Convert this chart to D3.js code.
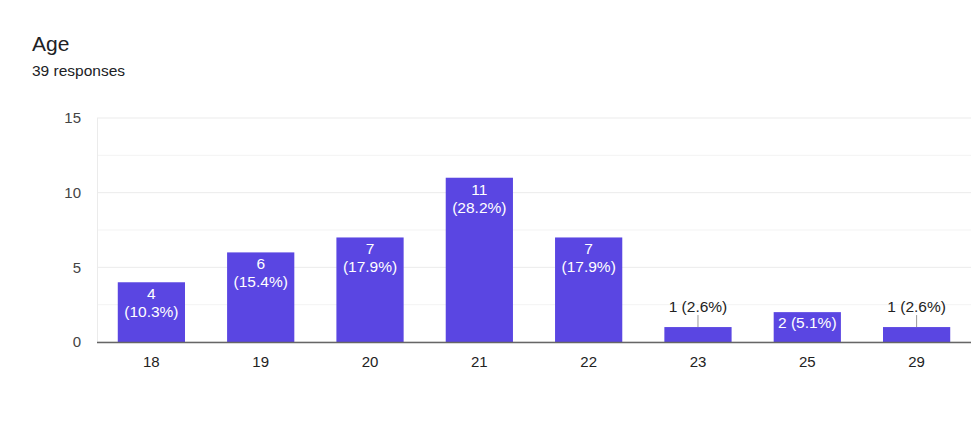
<!DOCTYPE html>
<html>
<head>
<meta charset="utf-8">
<script src="https://cdn.jsdelivr.net/npm/d3@7"></script>
<style>
  body { margin: 0; background: #fff; font-family: "Liberation Sans", Arial, sans-serif; }
  svg { display: block; }
</style>
</head>
<body>
<div id="chart"></div>
<script>
const ages = ["18", "19", "20", "21", "22", "23", "25", "29"];
const counts = [4, 6, 7, 11, 7, 1, 2, 1];
const percents = ["10.3%", "15.4%", "17.9%", "28.2%", "17.9%", "2.6%", "5.1%", "2.6%"];
const yTicks = [0, 5, 10, 15];
const gridTicks = [0, 2.5, 5, 7.5, 10, 12.5, 15];

const W = 971, H = 435;
const margin = { top: 118, right: 0, bottom: 93, left: 97 };
const width = W - margin.left - margin.right,
  height = H - margin.top - margin.bottom;

const root = d3.select("#chart").append("svg")
  .attr("width", W)
  .attr("height", H);

root.append("text")
  .attr("x", 32).attr("y", 51)
  .style("font-size", "21px")
  .style("fill", "#202124")
  .text("Age");

root.append("text")
  .attr("x", 32).attr("y", 76)
  .style("font-size", "15.5px")
  .style("fill", "#202124")
  .text("39 responses");

const svg = root.append("g")
  .attr("transform", `translate(${margin.left},${margin.top})`);

const x = d3.scaleBand().domain(ages).range([0, width]).paddingInner(0.385).paddingOuter(0.19);
const y = d3.scaleLinear().domain([0, 15]).range([height, 0]);

// grid
svg.selectAll("line.grid")
  .data(gridTicks)
  .join("line")
  .attr("class", "grid")
  .attr("x1", 0).attr("x2", width)
  .attr("y1", d => y(d)).attr("y2", d => y(d))
  .style("stroke", d => d % 5 === 0 ? "#ebebeb" : "#f3f3f3")
  .style("stroke-width", 1);

svg.append("line")
  .attr("x1", 0.5).attr("x2", 0.5)
  .attr("y1", 0).attr("y2", height)
  .style("stroke", "#ebebeb");

// y labels
svg.selectAll("text.ytick")
  .data(yTicks)
  .join("text")
  .attr("class", "ytick")
  .attr("x", -16)
  .attr("y", d => y(d))
  .attr("dy", "0.36em")
  .attr("text-anchor", "end")
  .style("font-size", "15px")
  .style("fill", "#444")
  .text(d => d);

const data = ages.map((a, i) => ({ age: a, count: counts[i], pct: percents[i] }));

svg.selectAll("rect.bar")
  .data(data)
  .join("rect")
  .attr("class", "bar")
  .attr("x", d => x(d.age))
  .attr("y", d => y(d.count))
  .attr("width", x.bandwidth())
  .attr("height", d => height - y(d.count))
  .style("fill", "#5a46e2");

// baseline
svg.append("line")
  .attr("x1", 0).attr("x2", width)
  .attr("y1", height + 0.5).attr("y2", height + 0.5)
  .style("stroke", "#666")
  .style("stroke-width", 1.5);

// x labels
svg.selectAll("text.xtick")
  .data(ages)
  .join("text")
  .attr("class", "xtick")
  .attr("x", d => x(d) + x.bandwidth() / 2)
  .attr("y", height + 25)
  .attr("text-anchor", "middle")
  .style("font-size", "15px")
  .style("fill", "#222")
  .text(d => d);

// value labels
const cx = d => x(d.age) + x.bandwidth() / 2;
data.forEach(d => {
  const top = y(d.count);
  if (d.count >= 4) {
    svg.append("text").attr("x", cx(d)).attr("y", top + 17)
      .attr("text-anchor", "middle").style("font-size", "15.5px").style("fill", "#fff")
      .text(d.count);
    svg.append("text").attr("x", cx(d)).attr("y", top + 35)
      .attr("text-anchor", "middle").style("font-size", "15.5px").style("fill", "#fff")
      .text(`(${d.pct})`);
  } else if (d.count >= 2) {
    svg.append("text").attr("x", cx(d)).attr("y", top + 16)
      .attr("text-anchor", "middle").style("font-size", "15.5px").style("fill", "#fff")
      .text(`${d.count} (${d.pct})`);
  } else {
    svg.append("line")
      .attr("x1", cx(d)).attr("x2", cx(d))
      .attr("y1", top - 12).attr("y2", top)
      .style("stroke", "#999");
    svg.append("text").attr("x", cx(d)).attr("y", top - 15)
      .attr("text-anchor", "middle").style("font-size", "15.5px").style("fill", "#222")
      .text(`${d.count} (${d.pct})`);
  }
});
</script>
</body>
</html>
